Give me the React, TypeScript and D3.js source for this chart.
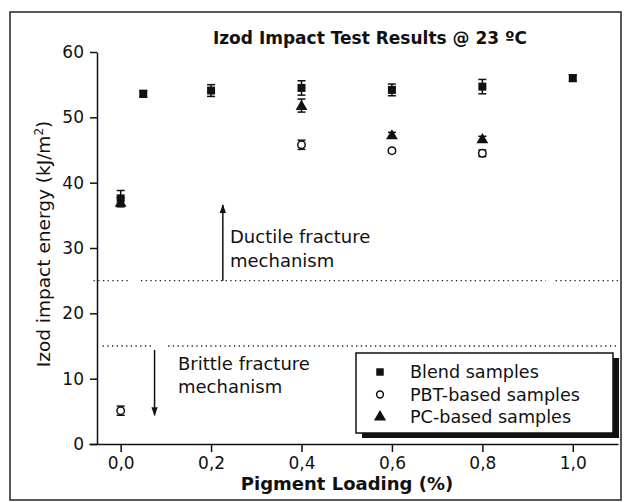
import React, { useRef, useEffect } from "react";
import * as d3 from "d3";

// Izod impact data
const blendX = [0, 0.05, 0.2, 0.4, 0.6, 0.8, 1.0];
const blendY = [37.6, 53.6, 54.1, 54.5, 54.2, 54.7, 56.0];
const blendErr = [1.2, 0.5, 0.9, 1.1, 0.9, 1.1, 0.5];

const pbtX = [0, 0.4, 0.6, 0.8];
const pbtY = [5.1, 45.8, 44.9, 44.5];
const pbtErr = [0.7, 0.7, 0.3, 0.5];

const pcX = [0, 0.4, 0.6, 0.8];
const pcY = [37.0, 51.8, 47.3, 46.7];
const pcErr = [0.7, 1.0, 0.4, 0.4];

const yTicks = [0, 10, 20, 30, 40, 50, 60];
const yMinor = [5, 15, 25, 35, 45, 55];
const xTicks = [0, 0.2, 0.4, 0.6, 0.8, 1.0];
const xMinor = [0.1, 0.3, 0.5, 0.7, 0.9];

const legendLabels = ["Blend samples", "PBT-based samples", "PC-based samples"];

const FONT = "'DejaVu Sans', Arial, sans-serif";

const App = () => {
  const svgRef = useRef<SVGSVGElement>(null);

  useEffect(() => {
    document.body.style.margin = "0";
    const svg = d3.select(svgRef.current);
    svg.selectAll("*").remove();

    const W = 626;
    const H = 502;

    const x = d3.scaleLinear().domain([-0.07, 1.1]).range([89, 618]);
    const y = d3.scaleLinear().domain([0, 60]).range([444, 52]);

    // outer frame
    svg
      .append("rect")
      .attr("x", 10)
      .attr("y", 12)
      .attr("width", 611)
      .attr("height", 488)
      .attr("fill", "white")
      .attr("stroke", "#222")
      .attr("stroke-width", 1.5);

    // axes
    const fmt = (d) => d3.format(".1f")(d).replace(".", ",");

    const gx = svg.append("g").attr("transform", `translate(0,${y(0)})`);
    gx.call(d3.axisBottom(x).tickValues(xMinor).tickSize(4).tickSizeOuter(0).tickFormat(() => ""));
    gx.call(
      d3.axisBottom(x).tickValues(xTicks).tickSize(8).tickSizeOuter(0).tickFormat(fmt).tickPadding(5)
    );

    const gy = svg.append("g").attr("transform", `translate(${x(-0.07) + 8},0)`);
    gy.call(d3.axisLeft(y).tickValues(yMinor).tickSize(4).tickSizeOuter(0).tickFormat(() => ""));
    gy.call(d3.axisLeft(y).tickValues(yTicks).tickSize(7).tickSizeOuter(0).tickPadding(6));

    svg.selectAll(".domain").attr("stroke", "#111").attr("stroke-width", 1.5);
    svg.selectAll(".tick line").attr("stroke", "#111").attr("stroke-width", 1.5);
    svg
      .selectAll(".tick text")
      .attr("font-family", FONT)
      .attr("font-size", 17)
      .attr("fill", "#111");

    // dotted threshold lines
    const dotted = [
      [25, -0.06, 0.022],
      [25, 0.045, 0.94],
      [25, 0.962, 1.1],
      [15, -0.04, 0.07],
      [15, 0.105, 1.1],
    ];
    dotted.forEach(([v, a, b]) => {
      svg
        .append("line")
        .attr("x1", x(a))
        .attr("x2", x(b))
        .attr("y1", y(v))
        .attr("y2", y(v))
        .attr("stroke", "#222")
        .attr("stroke-width", 1.3)
        .attr("stroke-dasharray", "1.3,3.4");
    });

    // arrows
    const defs = svg.append("defs");
    defs
      .append("marker")
      .attr("id", "head")
      .attr("viewBox", "0 0 10 10")
      .attr("refX", 9)
      .attr("refY", 5)
      .attr("markerWidth", 6)
      .attr("markerHeight", 8)
      .attr("orient", "auto")
      .append("path")
      .attr("d", "M0,1.5 L10,5 L0,8.5 Z")
      .attr("fill", "#111");

    svg
      .append("line")
      .attr("x1", x(0.226))
      .attr("x2", x(0.226))
      .attr("y1", y(25))
      .attr("y2", y(36.6))
      .attr("stroke", "#111")
      .attr("stroke-width", 1.5)
      .attr("marker-end", "url(#head)");
    svg
      .append("line")
      .attr("x1", x(0.075))
      .attr("x2", x(0.075))
      .attr("y1", y(14.4))
      .attr("y2", y(4.4))
      .attr("stroke", "#111")
      .attr("stroke-width", 1.5)
      .attr("marker-end", "url(#head)");

    const note = (tx, ty, s) =>
      svg
        .append("text")
        .attr("x", tx)
        .attr("y", ty)
        .attr("font-family", FONT)
        .attr("font-size", 18)
        .attr("fill", "#111")
        .text(s);
    note(230, 243, "Ductile fracture");
    note(230, 267, "mechanism");
    note(178, 370, "Brittle fracture");
    note(178, 393, "mechanism");

    // error bars
    const errBars = (xs, ys, es) => {
      xs.forEach((xv, i) => {
        const cx = x(xv);
        const t = y(ys[i] + es[i]);
        const b = y(ys[i] - es[i]);
        const g = svg.append("g").attr("stroke", "#111").attr("stroke-width", 1.5);
        g.append("line").attr("x1", cx).attr("x2", cx).attr("y1", t).attr("y2", b);
        g.append("line").attr("x1", cx - 4).attr("x2", cx + 4).attr("y1", t).attr("y2", t);
        g.append("line").attr("x1", cx - 4).attr("x2", cx + 4).attr("y1", b).attr("y2", b);
      });
    };
    errBars(blendX, blendY, blendErr);
    errBars(pbtX, pbtY, pbtErr);
    errBars(pcX, pcY, pcErr);

    const square = d3.symbol().type(d3.symbolSquare).size(64);
    const circle = d3.symbol().type(d3.symbolCircle).size(44);
    const triangle = d3.symbol().type(d3.symbolTriangle).size(60);

    pbtX.forEach((xv, i) => {
      svg
        .append("path")
        .attr("d", circle())
        .attr("transform", `translate(${x(xv)},${y(pbtY[i])})`)
        .attr("fill", "white")
        .attr("stroke", "#111")
        .attr("stroke-width", 1.5);
    });
    pcX.forEach((xv, i) => {
      svg
        .append("path")
        .attr("d", triangle())
        .attr("transform", `translate(${x(xv)},${y(pcY[i]) + 1})`)
        .attr("fill", "#111");
    });
    blendX.forEach((xv, i) => {
      svg
        .append("path")
        .attr("d", square())
        .attr("transform", `translate(${x(xv)},${y(blendY[i])})`)
        .attr("fill", "#111");
    });

    // legend with drop shadow
    const lg = svg.append("g");
    lg.append("rect").attr("x", 362).attr("y", 358).attr("width", 257).attr("height", 80).attr("fill", "#111");
    lg.append("rect")
      .attr("x", 356)
      .attr("y", 353)
      .attr("width", 257)
      .attr("height", 80)
      .attr("fill", "white")
      .attr("stroke", "#111")
      .attr("stroke-width", 1.5);
    const legendSyms = [
      { d: d3.symbol().type(d3.symbolSquare).size(56)(), fill: "#111", stroke: "none" },
      { d: d3.symbol().type(d3.symbolCircle).size(36)(), fill: "white", stroke: "#111" },
      { d: d3.symbol().type(d3.symbolTriangle).size(64)(), fill: "#111", stroke: "none" },
    ];
    legendLabels.forEach((lab, i) => {
      const ry = 372 + i * 22.5;
      lg.append("path")
        .attr("d", legendSyms[i].d)
        .attr("transform", `translate(380,${ry})`)
        .attr("fill", legendSyms[i].fill)
        .attr("stroke", legendSyms[i].stroke)
        .attr("stroke-width", 1.5);
      lg.append("text")
        .attr("x", 410)
        .attr("y", ry + 6)
        .attr("font-family", FONT)
        .attr("font-size", 17.6)
        .attr("fill", "#111")
        .text(lab);
    });

    // title
    svg
      .append("text")
      .attr("x", 370)
      .attr("y", 44)
      .attr("text-anchor", "middle")
      .attr("font-family", FONT)
      .attr("font-weight", "bold")
      .attr("font-size", 17)
      .attr("fill", "#111")
      .text("Izod Impact Test Results @ 23 ºC");

    // axis titles
    svg
      .append("text")
      .attr("x", 347)
      .attr("y", 490)
      .attr("text-anchor", "middle")
      .attr("font-family", FONT)
      .attr("font-weight", "bold")
      .attr("font-size", 18)
      .attr("fill", "#111")
      .text("Pigment Loading (%)");

    const yl = svg
      .append("text")
      .attr("transform", `translate(50,${(y(0) + y(60)) / 2 - 4}) rotate(-90)`)
      .attr("text-anchor", "middle")
      .attr("font-family", FONT)
      .attr("font-size", 18.5)
      .attr("fill", "#111");
    yl.append("tspan").text("Izod impact energy (kJ/m");
    yl.append("tspan").attr("font-size", 12).attr("dy", -7).text("2");
    yl.append("tspan").attr("dy", 7).text(")");

    svg.attr("width", W).attr("height", H);
  }, []);

  return <svg ref={svgRef} width={626} height={502} style={{ display: "block" }}></svg>;
};

export default App;
